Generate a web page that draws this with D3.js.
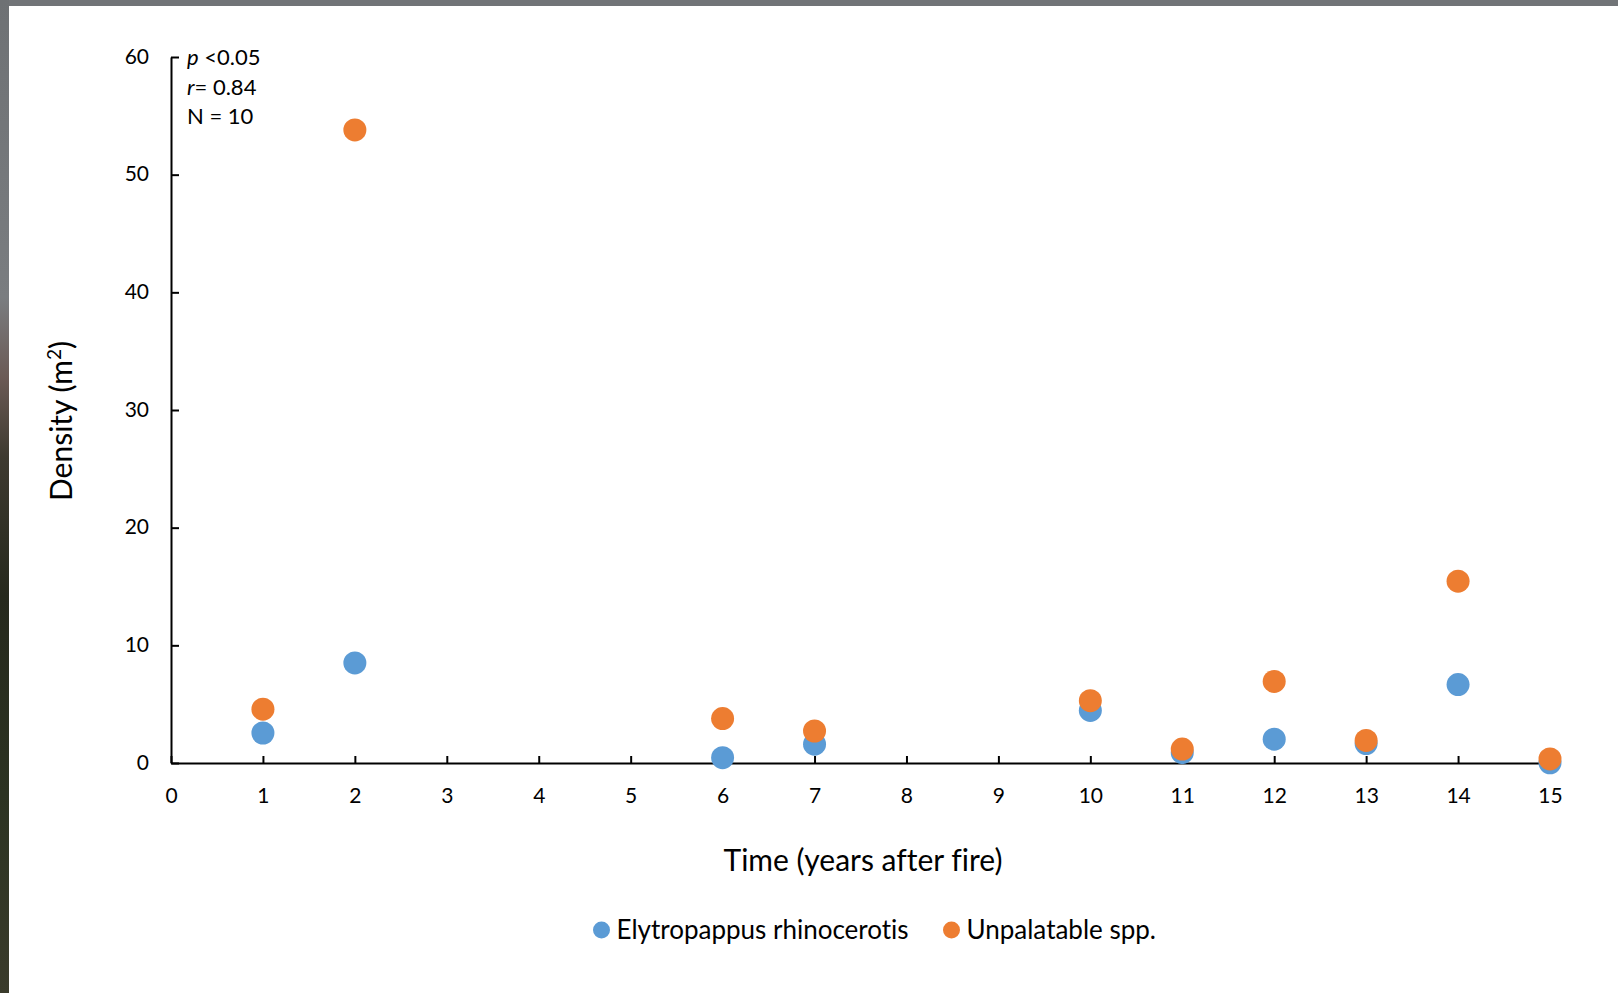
<!DOCTYPE html>
<html>
<head>
<meta charset="utf-8">
<script src="https://cdn.jsdelivr.net/npm/d3@7"></script>
<style>
  html, body { margin: 0; padding: 0; background: #fff; }
  svg { display: block; font-family: Lato, "Open Sans", sans-serif; font-variant-ligatures: none; }
</style>
</head>
<body>
<svg width="1618" height="993"></svg>
<script>
// Years after fire with a sample
const years = [1, 2, 6, 7, 10, 11, 12, 13, 14, 15];
// Density per m2
const elytropappus = [2.55, 8.5, 0.45, 1.6, 4.47, 0.88, 2.02, 1.65, 6.67, 0.02];
const unpalatable = [4.57, 53.8, 3.78, 2.72, 5.3, 1.18, 6.93, 1.92, 15.45, 0.35];

const seriesNames = ["Elytropappus rhinocerotis", "Unpalatable spp."];
const seriesColors = ["#5b9bd5", "#ed7d31"];
const xTicks = d3.range(0, 16);
const yTicks = [0, 10, 20, 30, 40, 50, 60];
const statLines = [["p", " <0.05"], ["r", "= 0.84"], ["", "N = 10"]];

const width = 1618;
const height = 993;
const svg = d3.select("svg");

// slide background peeking through at the edges
const grad = svg.append("defs").append("linearGradient")
    .attr("id", "edge")
    .attr("x1", 0).attr("y1", 0).attr("x2", 0).attr("y2", 1);
[["0%", "#6e7174"], ["30%", "#7a7d80"], ["38%", "#6b5a55"], ["46%", "#3e3a30"],
 ["60%", "#26291d"], ["80%", "#2c3322"], ["100%", "#3a3b2b"]]
    .forEach(([o, c]) => grad.append("stop").attr("offset", o).attr("stop-color", c));

svg.append("rect").attr("x", 0).attr("y", 0).attr("width", width).attr("height", 6).attr("fill", "#717477");
svg.append("rect").attr("x", 0).attr("y", 0).attr("width", 9).attr("height", height).attr("fill", "url(#edge)");

const x = d3.scaleLinear().domain([0, 15]).range([171, 1550]);
const y = d3.scaleLinear().domain([0, 60]).range([763, 57]);

const g = svg.append("g");

// axes, ticks pointing inward
const xAxis = g.append("g")
    .attr("transform", `translate(0,${y(0)})`)
    .call(d3.axisBottom(x).tickValues(xTicks).tickSize(-7).tickPadding(25).tickSizeOuter(0));

const yAxis = g.append("g")
    .attr("transform", `translate(${x(0)},0)`)
    .call(d3.axisLeft(y).tickValues(yTicks).tickSize(-8).tickPadding(22).tickSizeOuter(0));

[xAxis, yAxis].forEach(a => {
    a.select(".domain").attr("stroke", "#000").attr("stroke-width", 2);
    a.selectAll(".tick line").attr("stroke", "#000").attr("stroke-width", 2);
    a.selectAll(".tick text")
        .attr("fill", "#000")
        .style("font-size", "21px")
        .style("font-family", "Lato, sans-serif");
});
yAxis.selectAll(".tick text").attr("dy", "0.3em");

// points
const series = [elytropappus, unpalatable];
series.forEach((vals, i) => {
    g.append("g")
        .selectAll("circle")
        .data(years.map((yr, j) => ({ yr, v: vals[j] })))
        .join("circle")
        .attr("cx", d => x(d.yr))
        .attr("cy", d => y(d.v))
        .attr("r", 11.5)
        .attr("fill", seriesColors[i]);
});

// stats text
const stats = g.append("text")
    .attr("y", 65)
    .style("font-size", "22px")
    .attr("fill", "#000");
statLines.forEach((ln, i) => {
    const t = stats.append("tspan").attr("x", 187).attr("dy", i === 0 ? 0 : 29.5);
    if (ln[0]) t.append("tspan").style("font-style", "italic").text(ln[0]);
    t.append("tspan").text(ln[1]);
});

// axis titles
g.append("text")
    .attr("x", 863)
    .attr("y", 871)
    .attr("text-anchor", "middle")
    .style("font-size", "30px")
    .attr("fill", "#000")
    .text("Time (years after fire)");

const yTitle = g.append("text")
    .attr("transform", "translate(72,421) rotate(-90)")
    .attr("text-anchor", "middle")
    .style("font-size", "30px")
    .attr("fill", "#000");
yTitle.append("tspan").text("Density (m");
yTitle.append("tspan").attr("dy", -11).style("font-size", "19px").text("2");
yTitle.append("tspan").attr("dy", 11).text(")");

// legend
const legendX = [601.5, 951.5];
const legend = g.append("g");
seriesNames.forEach((name, i) => {
    legend.append("circle")
        .attr("cx", legendX[i])
        .attr("cy", 930)
        .attr("r", 8.5)
        .attr("fill", seriesColors[i]);
    legend.append("text")
        .attr("x", legendX[i] + 15)
        .attr("y", 939)
        .style("font-size", "26px")
        .attr("fill", "#000")
        .text(name);
});
</script>
</body>
</html>
